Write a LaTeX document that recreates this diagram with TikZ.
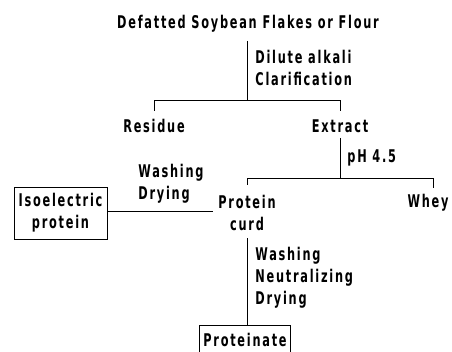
\documentclass[tikz,border=0pt]{standalone}
\usepackage{fontspec}
\newfontfamily\condfont{DejaVu Sans Condensed}[FakeStretch=0.72, LetterSpace=10]
\usetikzlibrary{positioning}
\tikzset{
  lbl/.style={font=\condfont\bfseries\fontsize{17.5}{22}\selectfont, inner sep=2pt, align=center},
  steps/.style={lbl, align=left},
  boxed/.style={lbl, draw, line width=1pt, inner sep=4pt},
}
\begin{document}
\begin{tikzpicture}[x=1pt,y=-1pt,line width=0.9pt]
  \useasboundingbox (0,0) rectangle (452,351);
  \node[lbl] (src) at (248,24) {Defatted Soybean Flakes or Flour};
  \coordinate (j1) at (247,100);
  \node[steps, anchor=west] (s1) at (253,68) {Dilute alkali\\Clarification};
  \node[lbl] (res) at (154,126) {Residue};
  \node[lbl] (ext) at (340,126) {Extract};
  \coordinate (j2) at (340,178);
  \node[steps, anchor=west] (s2) at (345,158) {pH 4.5};
  \node[lbl] (curd) at (247,213) {Protein\\curd};
  \node[lbl, anchor=east] (whey) at (451,203) {Whey};
  \node[boxed, minimum width=93pt, minimum height=52pt] (iso) at (60.5,213) {Isoelectric\\protein};
  \node[steps, anchor=west] (s3) at (136,184) {Washing\\Drying};
  \node[steps, anchor=west] (s4) at (253,278) {Washing\\Neutralizing\\Drying};
  \node[boxed, minimum width=88pt, minimum height=30pt] (prot) at (245,340) {Proteinate};
  % connectors
  \draw[shorten <=6pt] (src.south -| j1) -- (j1);
  \draw[shorten >=6pt] (j1) -| (res.north);
  \draw[shorten >=6pt] (j1) -| (ext.north);
  \draw[shorten <=3pt] (ext.south) -- (j2);
  \draw (j2) -| (433,188);
  \draw[shorten >=8pt] (j2) -| (curd.north);
  \draw[shorten >=3pt] (iso.east |- 0,211) -- (curd.west |- 0,211);
  \draw[shorten <=5pt] (curd.south) -- (curd.south |- prot.north);
\end{tikzpicture}
\end{document}
